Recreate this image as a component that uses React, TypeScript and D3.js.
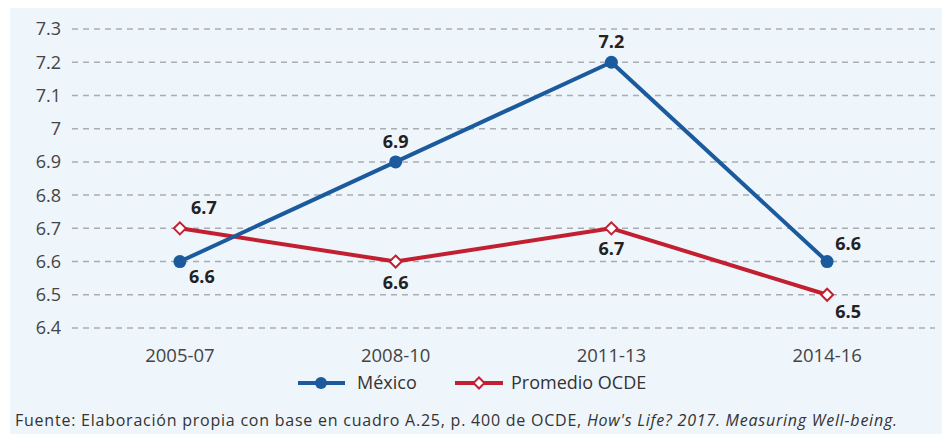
import React from "react";
import * as d3 from "d3";

const categories = ["2005-07", "2008-10", "2011-13", "2014-16"];
const mexico = [6.6, 6.9, 7.2, 6.6];
const ocde = [6.7, 6.6, 6.7, 6.5];
const yTicks = [6.4, 6.5, 6.6, 6.7, 6.8, 6.9, 7.0, 7.1, 7.2, 7.3];
const seriesNames = ["México", "Promedio OCDE"];

const W = 942;
const H = 434;
const FONT = "'Open Sans', Roboto, sans-serif";
const BLUE = "#1b5a9c";
const RED = "#c21f30";

export default function App() {
  const x = d3.scalePoint<string>().domain(categories).range([72, 935]).padding(0.5);
  const y = d3.scaleLinear().domain([6.4, 7.3]).range([328, 29]);
  const line = d3
    .line<number>()
    .x((_, i) => x(categories[i]) as number)
    .y((d) => y(d));

  // label offsets [dx, dy] relative to point
  const mexOff = [[22, 21], [0, -14], [0, -14], [21, -12]];
  const ocdeOff = [[24, -14], [0, 27], [0, 27], [21, 23]];

  const diamond = (cx: number, cy: number, r: number) =>
    `M${cx},${cy - r}L${cx + r},${cy}L${cx},${cy + r}L${cx - r},${cy}Z`;

  return (
    <svg width={W} height={H} style={{ position: "absolute", left: 0, top: 0 }} fontFamily={FONT}>
      <rect x={0} y={0} width={W} height={H} fill="#ffffff" />
      <rect x={10} y={8} width={W - 10} height={H - 8} fill="#eef5fb" />
      {yTicks.map((t) => (
        <g key={t}>
          <line x1={72} x2={935} y1={y(t)} y2={y(t)} stroke="#a9adb2" strokeWidth={1.5} strokeDasharray="6 5" />
          <text x={61} y={y(t)} dy="0.36em" textAnchor="end" fontSize={18} fill="#444">
            {d3.format("~g")(t)}
          </text>
        </g>
      ))}
      {categories.map((c) => (
        <text key={c} x={x(c)} y={362} textAnchor="middle" fontSize={18.5} fill="#444">
          {c}
        </text>
      ))}
      <path d={line(ocde) as string} fill="none" stroke={RED} strokeWidth={4} strokeLinejoin="round" />
      <path d={line(mexico) as string} fill="none" stroke={BLUE} strokeWidth={4} strokeLinejoin="round" />
      {mexico.map((v, i) => (
        <circle key={"m" + i} cx={x(categories[i])} cy={y(v)} r={6.5} fill={BLUE} />
      ))}
      {ocde.map((v, i) => (
        <path key={"o" + i} d={diamond(x(categories[i]) as number, y(v), 6)} fill="#fff" stroke={RED} strokeWidth={2} />
      ))}
      {mexico.map((v, i) => (
        <text key={"ml" + i} x={(x(categories[i]) as number) + mexOff[i][0]} y={y(v) + mexOff[i][1]} textAnchor="middle" fontSize={18} fontWeight="bold" fill="#222">
          {d3.format(".1f")(v)}
        </text>
      ))}
      {ocde.map((v, i) => (
        <text key={"ol" + i} x={(x(categories[i]) as number) + ocdeOff[i][0]} y={y(v) + ocdeOff[i][1]} textAnchor="middle" fontSize={18} fontWeight="bold" fill="#222">
          {d3.format(".1f")(v)}
        </text>
      ))}
      {/* legend */}
      <g>
        <line x1={298} x2={345} y1={383} y2={383} stroke={BLUE} strokeWidth={4} />
        <circle cx={321} cy={383} r={6} fill={BLUE} />
        <text x={357} y={383} dy="0.36em" fontSize={18} fill="#333">{seriesNames[0]}</text>
        <line x1={455} x2={503} y1={383} y2={383} stroke={RED} strokeWidth={4} />
        <path d={diamond(479, 383, 5.5)} fill="#fff" stroke={RED} strokeWidth={2} />
        <text x={511} y={383} dy="0.36em" fontSize={18} fill="#333">{seriesNames[1]}</text>
      </g>
      <text x={15} y={426} fontSize={16} fill="#333" textLength={882} lengthAdjust="spacing">
        Fuente: Elaboración propia con base en cuadro A.25, p. 400 de OCDE,{" "}
        <tspan fontStyle="italic">How's Life? 2017. Measuring Well-being.</tspan>
      </text>
    </svg>
  );
}
